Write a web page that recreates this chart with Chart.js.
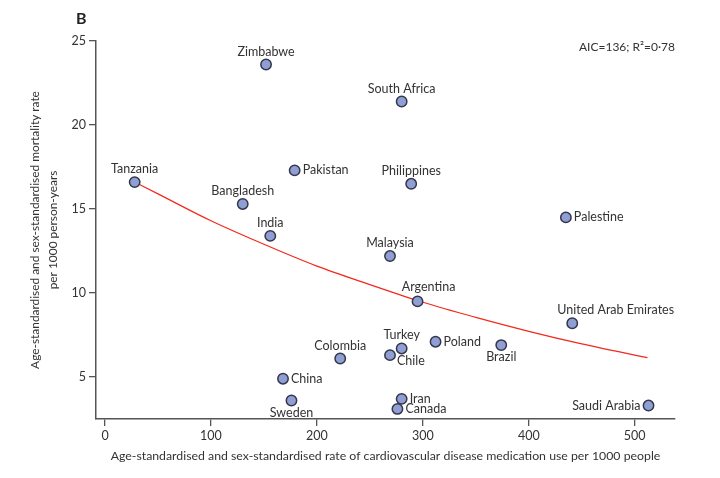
<!DOCTYPE html>
<html>
<head>
<meta charset="utf-8">
<script src="https://cdn.jsdelivr.net/npm/chart.js@4.4.1/dist/chart.umd.min.js"></script>
<style>
html,body{margin:0;padding:0;background:#fff;}
#wrap{position:relative;width:720px;height:478px;}
</style>
</head>
<body>
<div id="wrap"><canvas id="c" width="720" height="478"></canvas></div>
<script>
// ---- data ----
const countries = ["Zimbabwe","South Africa","Pakistan","Philippines","Tanzania","Bangladesh","Palestine","India","Malaysia","Argentina","United Arab Emirates","Poland","Brazil","Turkey","Chile","Colombia","China","Sweden","Iran","Canada","Saudi Arabia"];
const medicationUse = [152, 280, 179, 289, 28, 130, 435, 156, 269, 295, 441, 312, 374, 280, 269, 222, 168, 176, 280, 276, 513];
const mortalityRate = [23.6, 21.4, 17.3, 16.5, 16.6, 15.3, 14.5, 13.4, 12.2, 9.5, 8.2, 7.1, 6.9, 6.7, 6.3, 6.1, 4.9, 3.6, 3.7, 3.1, 3.3];
const labelSide = ["above","above","right","above","above","above","right","above","above","aboveR","aboveUAE","right","below","above","rightBelow","above","right","below","right","right","left"];
const fitX = [28, 50, 100, 150, 200, 250, 300, 350, 400, 450, 512];
const fitY = [16.6, 15.9, 14.3, 12.9, 11.6, 10.5, 9.45, 8.55, 7.72, 6.97, 6.15];
const xTicks = [0, 100, 200, 300, 400, 500];
const yTicks = [5, 10, 15, 20, 25];
const xTitle = "Age-standardised and sex-standardised rate of cardiovascular disease medication use per 1000 people";
const yTitle = ["Age-standardised and sex-standardised mortality rate", "per 1000 person-years"];
const panelLabel = "B";
const statsText = "AIC=136; R\u00b2=0\u00b778";

const FONT = "Lato, 'Open Sans', sans-serif";
const TXT = "#333";

const labelPlugin = {
  id: 'pointLabels',
  afterDatasetsDraw(chart) {
    const ctx = chart.ctx;
    const meta = chart.getDatasetMeta(1);
    ctx.save();
    ctx.font = "12.5px " + FONT;
    ctx.fillStyle = TXT;
    ctx.textBaseline = 'middle';
    meta.data.forEach((pt, i) => {
      const side = labelSide[i];
      const t = countries[i];
      let x = pt.x, y = pt.y;
      switch (side) {
        case 'above': ctx.textAlign = 'center'; y -= 13; break;
        case 'aboveR': ctx.textAlign = 'center'; x += 11; y -= 14; break;
        case 'aboveUAE': ctx.textAlign = 'left'; x -= 15; y -= 13; break;
        case 'below': ctx.textAlign = 'center'; y += 12; break;
        case 'right': ctx.textAlign = 'left'; x += 8; break;
        case 'rightBelow': ctx.textAlign = 'left'; x += 7; y += 6; break;
        case 'left': ctx.textAlign = 'right'; x -= 8; break;
      }
      ctx.fillText(t, x, y);
    });
    // panel label and stats text
    ctx.font = "bold 16px " + FONT;
    ctx.textAlign = 'left';
    ctx.fillStyle = '#222';
    ctx.fillText(panelLabel, 76, 19);
    ctx.font = "12px " + FONT;
    ctx.fillStyle = TXT;
    ctx.textAlign = 'right';
    ctx.fillText(statsText, chart.chartArea.right, 47);
    ctx.restore();
  }
};

new Chart(document.getElementById('c'), {
  type: 'scatter',
  data: {
    datasets: [
      {
        type: 'line',
        data: fitX.map((x, i) => ({x: x, y: fitY[i]})),
        borderColor: '#f2291c',
        borderWidth: 1.2,
        pointRadius: 0,
        fill: false,
        cubicInterpolationMode: 'monotone',
        order: 2
      },
      {
        data: medicationUse.map((x, i) => ({x: x, y: mortalityRate[i]})),
        backgroundColor: '#8f9fd4',
        borderColor: '#34364a',
        borderWidth: 1.5,
        pointRadius: 5.2,
        pointHoverRadius: 5.2,
        order: 1
      }
    ]
  },
  options: {
    responsive: false,
    animation: false,
    events: [],
    layout: {padding: {left: 0, right: 45, top: 41, bottom: 0}},
    plugins: {legend: {display: false}, tooltip: {enabled: false}},
    scales: {
      x: {
        type: 'linear', min: -8.5, max: 538,
        afterBuildTicks: s => { s.ticks = xTicks.map(v => ({value: v})); },
        afterFit: s => { s.height = 59; },
        border: {color: '#555', width: 1.5},
        grid: {drawOnChartArea: false, drawTicks: true, tickLength: 7, color: '#555', lineWidth: 1.3},
        ticks: {color: TXT, font: {family: FONT, size: 12.5}, padding: 2, maxRotation: 0},
        title: {display: true, text: xTitle, color: TXT, font: {family: FONT, size: 12.3, lineHeight: 1.5}, padding: {top: 0, bottom: 13}}
      },
      y: {
        type: 'linear', min: 2.5, max: 25,
        afterBuildTicks: s => { s.ticks = yTicks.map(v => ({value: v})); },
        afterFit: s => { s.width = 96; },
        border: {color: '#555', width: 1.5},
        grid: {drawOnChartArea: false, drawTicks: true, tickLength: 7, color: '#555', lineWidth: 1.3},
        ticks: {color: TXT, font: {family: FONT, size: 12.5}, padding: 3},
        title: {display: true, text: yTitle, color: TXT, font: {family: FONT, size: 11.9, lineHeight: 1.55}, padding: {top: 26, bottom: 0}}
      }
    }
  },
  plugins: [labelPlugin]
});
</script>
</body>
</html>
